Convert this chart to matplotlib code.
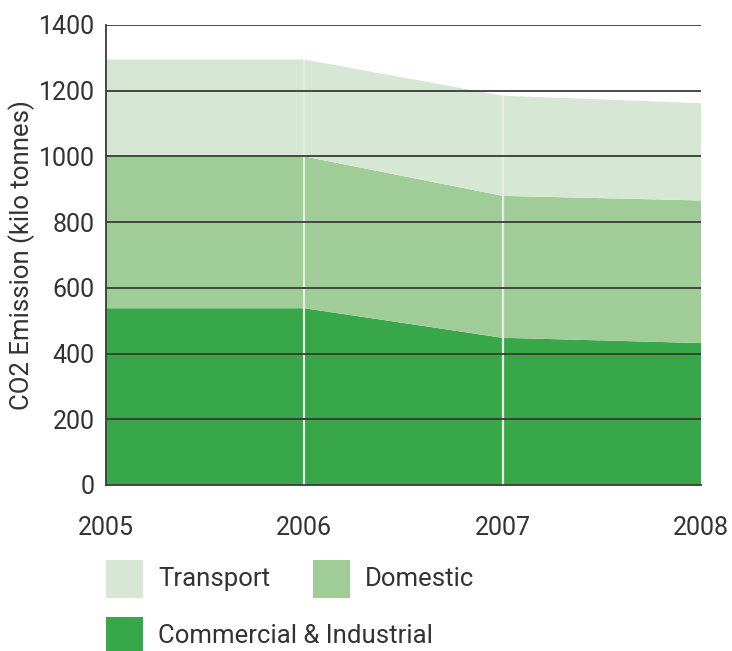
import matplotlib
matplotlib.use("Agg")
import matplotlib.pyplot as plt
from matplotlib import font_manager
from matplotlib.patches import Rectangle

names = {f.name for f in font_manager.fontManager.ttflist}
fam = 'Liberation Sans Narrow' if 'Liberation Sans Narrow' in names else 'Roboto'
plt.rcParams['font.family'] = [fam, 'DejaVu Sans']

years = [2005, 2006, 2007, 2008]
commercial = [538, 538, 448, 432]
domestic = [462, 462, 432, 434]
transport = [295, 295, 305, 296]
labels = ['Commercial & Industrial', 'Domestic', 'Transport']
colors = ['#37a74a', '#a0cc98', '#d6e8d4']
yticks = [0, 200, 400, 600, 800, 1000, 1200, 1400]

fig = plt.figure(figsize=(7.32, 6.51), dpi=100)
ax = fig.add_axes([106/732, 1-485/651, (701-106)/732, (485-25)/651])
ax.stackplot(years, commercial, domestic, transport, colors=colors, linewidth=0, zorder=1)
total = [c + d + t for c, d, t in zip(commercial, domestic, transport)]
ax.vlines(years[1:-1], 0, total[1:-1], colors='#e4efe2', linewidth=1.6, zorder=2)
ax.set_xlim(2005, 2008)
ax.set_ylim(0, 1400)
ax.set_yticks(yticks)
ax.set_xticks(years)
ax.set_xticklabels([str(y) for y in years])
for y in yticks[1:]:
    ax.axhline(y, color='#3a3a3a', linewidth=1.3, zorder=3)
for s in ['top', 'right']:
    ax.spines[s].set_visible(False)
for s in ['left', 'bottom']:
    ax.spines[s].set_color('#3a3a3a')
    ax.spines[s].set_linewidth(1.3)
    ax.spines[s].set_zorder(4)
ax.tick_params(axis='both', length=0, labelsize=18, colors='#333333')
ax.tick_params(axis='y', pad=8)
ax.tick_params(axis='x', pad=22)
ax.set_ylabel('CO2 Emission (kilo tonnes)', fontsize=18.5, color='#333333', labelpad=3)

# legend
W, H = 732, 651
items = [('Transport', colors[2], 106, 560), ('Domestic', colors[1], 313, 560),
         ('Commercial & Industrial', colors[0], 106, 617)]
for name, col, x0, y0 in items:
    fig.patches.append(Rectangle((x0/W, 1-(y0+38)/H), 37/W, 38/H, transform=fig.transFigure,
                                 facecolor=col, edgecolor='none'))
    fig.text((x0+52)/W, 1-(y0+19)/H, name, fontsize=18.5, color='#333333', va='center', ha='left')

fig.savefig('out.png', dpi=100)
